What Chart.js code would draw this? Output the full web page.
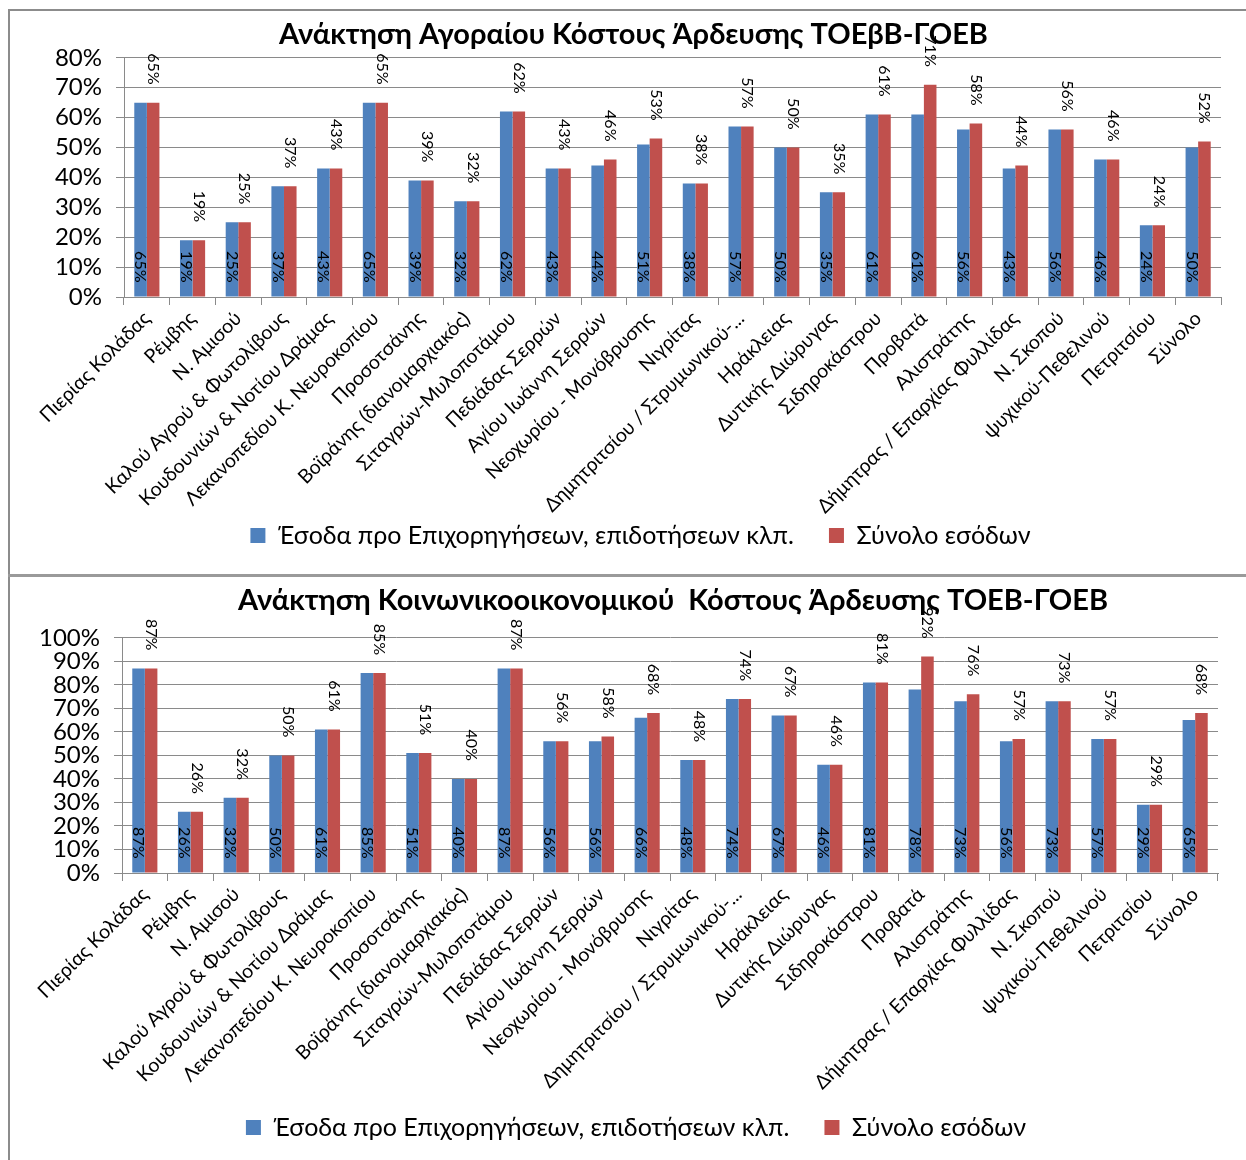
<!DOCTYPE html>
<html>
<head>
<meta charset="utf-8">
<script src="https://cdn.jsdelivr.net/npm/chart.js@4.4.1/dist/chart.umd.min.js"></script>
<style>
  body { margin: 0; background: #fff; width: 1246px; height: 1160px; position: relative; overflow: hidden; }
  .line { position: absolute; background: #8c8c8c; }
  .holder { position: absolute; left: 10px; }
</style>
</head>
<body>
<div class="line" style="left:8px;top:9px;width:1238px;height:2px"></div>
<div class="line" style="left:8px;top:9px;width:2px;height:567px"></div>
<div class="line" style="left:8px;top:574px;width:1238px;height:3px;background:#9a9a9a"></div>
<div class="line" style="left:8px;top:577px;width:2px;height:583px"></div>

<div class="holder" style="top:11px"><canvas id="marketChart" width="1236" height="563"></canvas></div>
<div class="holder" style="top:578px"><canvas id="socialChart" width="1236" height="582"></canvas></div>

<script>
// categories (same in both charts)
const labels = [
  "Πιερίας Κολάδας", "Ρέμβης", "Ν. Αμισού", "Καλού Αγρού & Φωτολίβους",
  "Κουδουνιών & Νοτίου Δράμας", "Λεκανοπεδίου Κ. Νευροκοπίου", "Προσοτσάνης",
  "Βοϊράνης (διανομαρχιακός)", "Σιταγρών-Μυλοποτάμου", "Πεδιάδας Σερρών",
  "Αγίου Ιωάννη Σερρών", "Νεοχωρίου - Μονόβρυσης", "Νιγρίτας",
  "Δημητριτσίου / Στρυμωνικού-...", "Ηράκλειας", "Δυτικής Διώρυγας",
  "Σιδηροκάστρου", "Προβατά", "Αλιστράτης", "Δήμητρας / Επαρχίας Φυλλίδας",
  "Ν. Σκοπού", "ψυχικού-Πεθελινού", "Πετριτσίου", "Σύνολο"
];

const seriesNames = ["Έσοδα προ Επιχορηγήσεων, επιδοτήσεων κλπ.", "Σύνολο εσόδων"];

// top chart - market cost recovery (%)
const marketBefore = [65, 19, 25, 37, 43, 65, 39, 32, 62, 43, 44, 51, 38, 57, 50, 35, 61, 61, 56, 43, 56, 46, 24, 50];
const marketTotal  = [65, 19, 25, 37, 43, 65, 39, 32, 62, 43, 46, 53, 38, 57, 50, 35, 61, 71, 58, 44, 56, 46, 24, 52];

// bottom chart - socio-economic cost recovery (%)
const socialBefore = [87, 26, 32, 50, 61, 85, 51, 40, 87, 56, 56, 66, 48, 74, 67, 46, 81, 78, 73, 56, 73, 57, 29, 65];
const socialTotal  = [87, 26, 32, 50, 61, 85, 51, 40, 87, 56, 58, 68, 48, 74, 67, 46, 81, 92, 76, 57, 73, 57, 29, 68];

const blue = '#4F81BD';
const red = '#C0504D';
const gridGray = '#8a8a8a';

// vertical value labels: blue at the base, red above the bar
const barLabels = {
  id: 'barLabels',
  afterDatasetsDraw(chart) {
    const ctx = chart.ctx;
    ctx.save();
    ctx.font = '16px Lato';
    ctx.fillStyle = '#000';
    ctx.textAlign = 'right';
    ctx.textBaseline = 'middle';
    chart.data.datasets.forEach((ds, d) => {
      const meta = chart.getDatasetMeta(d);
      meta.data.forEach((bar, i) => {
        const y = d === 0 ? bar.base - 14 : bar.y - 18;
        ctx.save();
        ctx.translate(bar.x, y);
        ctx.rotate(Math.PI / 2);
        ctx.fillText(Math.round(ds.data[i]) + '%', 0, 0);
        ctx.restore();
      });
    });
    ctx.restore();
  }
};

// nudge title and legend, like in the original sheet
const shiftBlocks = {
  id: 'shiftBlocks',
  afterLayout(chart, args, opts) {
    const t = chart.titleBlock, lg = chart.legend;
    if (t) { t.left += opts.title; t.right += opts.title; }
    if (lg) { lg.left += opts.legendX; lg.right += opts.legendX; lg.top += opts.legendY; lg.bottom += opts.legendY; }
  }
};

function makeChart(id, title, before, total, yMax, L) {
  return new Chart(document.getElementById(id), {
    type: 'bar',
    data: {
      labels: labels,
      datasets: [
        { label: seriesNames[0], data: before, backgroundColor: blue },
        { label: seriesNames[1], data: total, backgroundColor: red }
      ]
    },
    options: {
      responsive: false,
      animation: false,
      layout: { padding: { left: 0, right: L.right, top: 0, bottom: 0 } },
      datasets: { bar: { barPercentage: 1, categoryPercentage: 0.55 } },
      plugins: {
        title: {
          display: true, text: title, color: '#000',
          font: { family: 'Lato', size: 29, weight: 'bold' },
          padding: { top: L.titleTop, bottom: L.titleBottom }
        },
        legend: {
          position: 'bottom',
          labels: {
            color: '#000', font: { family: 'Lato', size: 25 }, boxWidth: 15, boxHeight: 15, padding: 10,
            generateLabels(chart) {
              const items = Chart.defaults.plugins.legend.labels.generateLabels(chart);
              items[0].text += '\u2003 ';
              return items;
            }
          }
        },
        tooltip: { enabled: false },
        shiftBlocks: { title: L.titleShift, legendX: L.legendX, legendY: L.legendY }
      },
      scales: {
        x: {
          grid: { display: true, drawOnChartArea: false, color: gridGray, tickLength: 8 },
          border: { color: gridGray },
          ticks: { color: '#000', font: { family: 'Lato', size: 19.5 }, maxRotation: 45, minRotation: 45, autoSkip: false, padding: 2 },
          afterFit(scale) { scale.height = L.xHeight; }
        },
        y: {
          min: 0, max: yMax,
          grid: { color: gridGray, tickLength: 8 },
          border: { color: gridGray },
          ticks: { stepSize: 10, autoSkip: false, color: '#000', font: { family: 'Lato', size: 24 }, padding: 14,
                   callback: v => v + '%' },
          afterFit(scale) { scale.width = L.yWidth; }
        }
      }
    },
    plugins: [barLabels, shiftBlocks]
  });
}

makeChart('marketChart', 'Ανάκτηση Αγοραίου Κόστους Άρδευσης ΤΟΕβΒ-ΓΟΕΒ', marketBefore, marketTotal, 80,
  { right: 25, titleTop: 6, titleBottom: 6, xHeight: 232, yWidth: 114, titleShift: 18, legendX: 25, legendY: -16 });

makeChart('socialChart', 'Ανάκτηση Κοινωνικοοικονομικού  Κόστους Άρδευσης ΤΟΕΒ-ΓΟΕΒ', socialBefore, socialTotal, 100,
  { right: 28, titleTop: 5, titleBottom: 20, xHeight: 242, yWidth: 112, titleShift: 59, legendX: 22, legendY: -10 });
</script>
</body>
</html>
